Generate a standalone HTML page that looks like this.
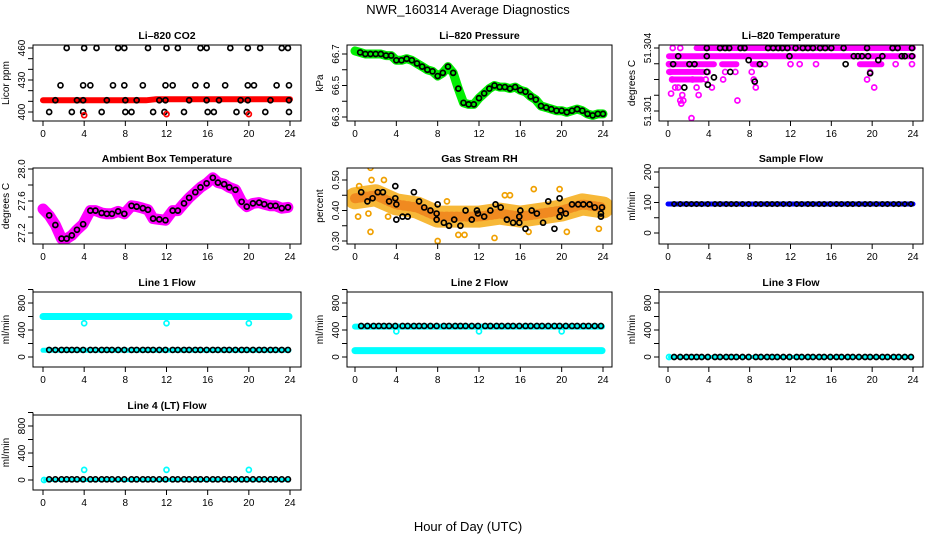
<!DOCTYPE html>
<html><head><meta charset="utf-8"><style>
html,body{margin:0;padding:0;background:#fff;}
svg{display:block;font-family:"Liberation Sans",sans-serif;}
</style></head><body>
<svg id="chart" width="936" height="540" viewBox="0 0 936 540" xmlns="http://www.w3.org/2000/svg">
<text x="468" y="14" font-size="13" text-anchor="middle">NWR_160314  Average Diagnostics</text>
<text x="468" y="531" font-size="13" text-anchor="middle">Hour of Day (UTC)</text>
</svg>
<script>
// ---------- data ----------
const xTickLabels = [0,4,8,12,16,20,24];
// CO2
const co2Band = [411,411,411,411,411,411,411,411,411,411,411,412,412,412,412,412,412,412,412,412,412,412,412,412,412];
const co2Hi = [2.3,4.0,5.2,7.3,7.9,10.2,12.0,13.1,15.3,15.9,18.2,19.9,21.1,23.2,23.8];
const co2Mid = [1.7,3.9,4.6,6.8,7.9,9.7,11.9,12.6,14.8,15.9,17.7,19.9,20.5,22.7,23.9];
const co2Base = [1.2,3.3,3.9,6.2,8.0,9.1,11.3,11.9,14.2,15.9,17.1,19.2,19.9,22.1,23.9];
const co2Low = [0.6,2.8,3.9,5.7,8.0,8.6,10.7,11.8,13.7,16.0,16.6,18.8,19.8,21.6,23.9];
const co2Levels = [460,425,411,400];
const co2RedOut = [[4,397],[12,398],[20,398]];
// Pressure (every 0.5 h)
const pressure = [66.72,66.71,66.70,66.70,66.70,66.70,66.69,66.69,66.66,66.66,66.67,66.66,66.64,66.62,66.60,66.59,66.56,66.58,66.62,66.58,66.48,66.39,66.38,66.38,66.42,66.45,66.48,66.50,66.49,66.49,66.48,66.49,66.47,66.46,66.43,66.41,66.37,66.36,66.35,66.34,66.34,66.33,66.34,66.35,66.34,66.32,66.31,66.32,66.32];
// Li-820 temperature
const tempSegs = [[51.30400,2.8,24],[51.30361,0.1,24],[51.30323,0.1,4.5],[51.30323,5.3,6.7],[51.30323,8.3,9.1],[51.30323,18.8,20.9],[51.30286,0.1,3.5],[51.30250,0.5,3.3]];
const tempMag = [[0.1,51.30323],[0.2,51.30286],[0.4,51.30250],[0.7,51.30212],[0.3,51.30183],[1.0,51.30212],[1.4,51.30176],[1.2,51.30150],[1.3,51.30135],[1.5,51.30150],[2.3,51.30066],[2.4,51.30250],[2.8,51.30212],[3.0,51.30176],[3.7,51.30250],[3.9,51.30286],[4.3,51.30212],[5.4,51.30250],[5.6,51.30286],[6.6,51.30286],[6.8,51.30150],[8.2,51.30286],[8.4,51.30250],[8.6,51.30212],[9.5,51.30323],[12.0,51.30323],[12.9,51.30323],[14.5,51.30323],[19.5,51.30250],[19.8,51.30286],[20.2,51.30212],[22.3,51.30323],[23.9,51.30323],[0.46,51.30400],[1.2,51.30400]];
const tempBlack = [[0.5,51.30323],[1.0,51.30361],[1.6,51.30212],[2.1,51.30323],[2.6,51.30323],[3.8,51.30400],[3.8,51.30286],[3.8,51.30361],[3.9,51.30225],[4.5,51.30260],[5.1,51.30400],[5.6,51.30400],[6.0,51.30400],[6.1,51.30286],[7.1,51.30400],[7.5,51.30400],[7.9,51.30342],[8.5,51.30240],[9.0,51.30323],[9.8,51.30400],[10.3,51.30400],[10.8,51.30400],[11.2,51.30400],[11.7,51.30400],[11.9,51.30361],[12.5,51.30400],[13.2,51.30400],[13.7,51.30400],[14.2,51.30400],[14.9,51.30400],[15.4,51.30400],[16.0,51.30400],[17.2,51.30400],[17.4,51.30323],[18.2,51.30361],[18.6,51.30361],[19.0,51.30361],[19.5,51.30400],[19.6,51.30361],[19.8,51.30280],[20.6,51.30342],[21.0,51.30361],[22.0,51.30400],[22.5,51.30400],[22.9,51.30361],[23.2,51.30361],[23.9,51.30400],[23.9,51.30361]];
// Ambient box temperature
const blackHours = [0.6,1.2,1.8,2.3,2.8,3.3,3.9,4.6,5.1,5.7,6.2,6.7,7.3,7.9,8.6,9.1,9.7,10.2,10.7,11.3,11.9,12.6,13.1,13.7,14.2,14.8,15.3,15.9,16.5,17.0,17.6,18.1,18.7,19.3,19.8,20.4,21.0,21.5,22.1,22.6,23.2,23.8];
const ambient = [27.42,27.30,27.13,27.13,27.17,27.24,27.31,27.48,27.48,27.45,27.44,27.44,27.47,27.44,27.54,27.53,27.51,27.49,27.38,27.37,27.36,27.48,27.48,27.57,27.64,27.71,27.77,27.82,27.89,27.83,27.81,27.77,27.74,27.59,27.53,27.57,27.58,27.56,27.54,27.54,27.51,27.52];
// Gas stream RH
const rhBandHours = [0,2,4,6,8,10,12,14,16,18,20,22,24];
const rhBand = [0.44,0.45,0.42,0.41,0.38,0.38,0.38,0.39,0.38,0.39,0.40,0.42,0.41];
const rhBlack = [[0.6,0.46],[1.2,0.43],[1.7,0.44],[2.2,0.46],[2.7,0.46],[3.3,0.43],[3.9,0.44],[3.9,0.48],[4.0,0.42],[4.0,0.37],[4.6,0.38],[5.1,0.38],[5.7,0.46],[6.2,0.43],[6.7,0.41],[7.3,0.40],[7.9,0.39],[7.9,0.37],[8.0,0.42],[8.6,0.36],[9.1,0.35],[9.6,0.37],[10.2,0.35],[10.7,0.40],[11.3,0.37],[11.8,0.40],[11.9,0.39],[12.5,0.38],[13.1,0.40],[13.6,0.42],[14.1,0.41],[14.7,0.37],[15.3,0.36],[15.9,0.36],[15.9,0.38],[16.0,0.40],[16.5,0.34],[17.1,0.40],[17.6,0.39],[18.2,0.36],[18.7,0.43],[19.3,0.34],[19.8,0.44],[19.8,0.38],[19.9,0.40],[20.4,0.39],[21.0,0.42],[21.6,0.42],[22.1,0.42],[22.7,0.42],[23.2,0.41],[23.8,0.39],[23.8,0.38],[23.9,0.41]];
const rhOut = [[1.5,0.54],[1.5,0.33],[1.3,0.39],[2.8,0.50],[3.2,0.38],[8.0,0.30],[10.0,0.32],[10.6,0.32],[13.5,0.31],[17.3,0.47],[16.8,0.33],[19.8,0.47],[20.5,0.33],[23.6,0.34],[14.5,0.45],[15.0,0.45],[8.9,0.43],[0.3,0.38],[0.4,0.48],[1.6,0.50]];
// Flows
const sampleFlow = 95;
const line1Cyan = 600, line1CyanLow = 100, line1Black = 105, line1Dip = 500;
const line2Cyan = 450, line2CyanLow = 95, line2Black = 460, line2Dip = 380;
const line3Cyan = 0, line3Black = 0;
const line4Cyan = 0, line4Black = 10, line4Spike = 150;
const dipHours = [4,12,20];

// ---------- drawing ----------
const svg = document.getElementById('chart');
const NS = 'http://www.w3.org/2000/svg';
function mk(tag, attrs, parent){ const e=document.createElementNS(NS,tag); for(const k in attrs) e.setAttribute(k,attrs[k]); (parent||svg).appendChild(e); return e; }
const cols = [{l:33,r:301,x0:43,x24:290},{l:347,r:612,x0:355,x24:603},{l:659,r:923,x0:668,x24:913}];
const rows = [{t:45,b:121},{t:168,b:244},{t:292,b:367},{t:415,b:490}];

function panel(name, col, row, title, ylab, v0, p0, v1, p1, ticks, labels){
  const c=cols[col], r=rows[row];
  const g = mk('g',{});
  
  
  const X = h => c.x0 + (c.x24-c.x0)*h/24;
  const Y = v => p0 + (p1-p0)*(v-v0)/(v1-v0);
  const clipId = 'clip-'+name;
  const cp = mk('clipPath',{id:clipId},g); mk('rect',{x:c.l,y:r.t,width:c.r-c.l,height:r.b-r.t},cp);
  const plot = mk('g',{'clip-path':'url(#'+clipId+')'},g);
  
  
  const box = mk('rect',{x:c.l,y:r.t,width:c.r-c.l,height:r.b-r.t,fill:'none',stroke:'#000','stroke-width':1},g);
  
  
  const t = mk('text',{x:(c.l+c.r)/2,y:r.t-6,'font-size':10.5,'font-weight':'bold','text-anchor':'middle'},g); t.textContent=title;
  
  
  const xa = mk('g',{},g);
  
  
  mk('line',{x1:X(0),x2:X(24),y1:r.b,y2:r.b,stroke:'#000'},xa);
  xTickLabels.forEach(h=>{
    mk('line',{x1:X(h),x2:X(h),y1:r.b,y2:r.b+5,stroke:'#000'},xa);
    const tx=mk('text',{x:X(h),y:r.b+16,'font-size':10,'text-anchor':'middle'},xa); tx.textContent=h;
    
    
  });
  const ya = mk('g',{},g);
  
  
  mk('line',{x1:c.l,x2:c.l,y1:Y(ticks[0]),y2:Y(ticks[ticks.length-1]),stroke:'#000'},ya);
  ticks.forEach(v=>{ mk('line',{x1:c.l-5,x2:c.l,y1:Y(v),y2:Y(v),stroke:'#000'},ya); });
  labels.forEach(v=>{
    const yy=Y(v[0]);
    const tx=mk('text',{x:c.l-8,y:yy,'font-size':10,'text-anchor':'middle',transform:'rotate(-90 '+(c.l-8)+' '+yy+')'},ya); tx.textContent=v[1];
    
    
  });
  const yl=mk('text',{x:c.l-24,y:(r.t+r.b)/2,'font-size':10,'text-anchor':'middle',transform:'rotate(-90 '+(c.l-24)+' '+((r.t+r.b)/2)+')'},g); yl.textContent=ylab;
  
  
  return {X,Y,plot};
}
function pt(p,x,y,color,r,sw){ const e=mk('circle',{cx:x,cy:y,r:r||2.5,fill:'none',stroke:color,'stroke-width':sw||1.7},p);   return e; }
function band(p,pts,color,w){ const e=mk('polyline',{points:pts.map(q=>q[0].toFixed(1)+','+q[1].toFixed(1)).join(' '),fill:'none',stroke:color,'stroke-width':w,'stroke-linejoin':'round','stroke-linecap':'round'},p);   return e; }

// CO2
(function(){
  const P=panel('co2-panel',0,0,'Li\u2013820 CO2','Licor ppm',400,112,460,48,[400,410,420,430,440,450,460],[[400,'400'],[430,'430'],[460,'460']]);
  band(P.plot, co2Band.map((v,i)=>[P.X(i),P.Y(v)]),'#ff0000',6);
  [co2Hi,co2Mid,co2Base,co2Low].forEach((hs,k)=>hs.forEach(h=>pt(P.plot,P.X(h),P.Y(co2Levels[k]),'#000')));
  co2RedOut.forEach(q=>pt(P.plot,P.X(q[0]),P.Y(q[1]),'#ff0000'));
})();
// Pressure
(function(){
  const P=panel('pressure-panel',1,0,'Li\u2013820 Pressure','kPa',66.3,117,66.7,54,[66.3,66.4,66.5,66.6,66.7],[[66.3,'66.3'],[66.5,'66.5'],[66.7,'66.7']]);
  band(P.plot, pressure.map((v,i)=>[P.X(i*0.5),P.Y(v)]),'#00ee00',9);
  pressure.forEach((v,i)=>{ if(i>0) pt(P.plot,P.X(i*0.5),P.Y(v),'#000'); });
})();
// Li-820 temperature
(function(){
  const P=panel('li820-temp-panel',2,0,'Li\u2013820 Temperature','degrees C',51.301,111,51.304,48,[51.301,51.30175,51.3025,51.30325,51.304],[[51.301,'51.301'],[51.304,'51.304']]);
  tempSegs.forEach(s=>band(P.plot,[[P.X(s[1]),P.Y(s[0])],[P.X(s[2]),P.Y(s[0])]],'#ff00ff',6));
  tempMag.forEach(q=>pt(P.plot,P.X(q[0]),P.Y(q[1]),'#ff00ff'));
  tempBlack.forEach(q=>pt(P.plot,P.X(q[0]),P.Y(q[1]),'#000'));
})();
// Ambient
(function(){
  const P=panel('ambient-temp-panel',0,1,'Ambient Box Temperature','degrees C',27.2,233,28.0,169,[27.2,27.4,27.6,27.8,28.0],[[27.2,'27.2'],[27.6,'27.6'],[28.0,'28.0']]);
  const pts=[[P.X(0),P.Y(27.5)]].concat(blackHours.map((h,i)=>[P.X(h),P.Y(ambient[i])]));
  band(P.plot,pts,'#ff00ff',11);
  blackHours.forEach((h,i)=>pt(P.plot,P.X(h),P.Y(ambient[i]),'#000'));
})();
// RH
(function(){
  const P=panel('rh-panel',1,1,'Gas Stream RH','percent',0.30,241,0.50,180,[0.30,0.35,0.40,0.45,0.50],[[0.30,'0.30'],[0.40,'0.40'],[0.50,'0.50']]);
  band(P.plot,rhBandHours.map((h,i)=>[P.X(h),P.Y(rhBand[i])]),'#f7b838',22);
  band(P.plot,rhBandHours.map((h,i)=>[P.X(h),P.Y(rhBand[i])]),'#f08a20',10).setAttribute('stroke-dasharray','2 3');
  rhOut.forEach(q=>pt(P.plot,P.X(q[0]),P.Y(q[1]),'#f0a000'));
  rhBlack.forEach(q=>pt(P.plot,P.X(q[0]),P.Y(q[1]),'#000'));
})();
// Sample flow
(function(){
  const P=panel('sample-flow-panel',2,1,'Sample Flow','ml/min',0,233,200,172,[0,50,100,150,200],[[0,'0'],[100,'100'],[200,'200']]);
  band(P.plot,[[P.X(0),P.Y(sampleFlow)],[P.X(24),P.Y(sampleFlow)]],'#0000ff',5);
  blackHours.forEach(h=>pt(P.plot,P.X(h),P.Y(sampleFlow),'#000',2.2));
})();
function flowPanel(name,col,row,title){
  const off=rows[row].b-367;
  return panel(name,col,row,title,'ml/min',0,357+off,800,303+off,[0,200,400,600,800,1000],[[0,'0'],[400,'400'],[800,'800']]);
}
// Line 1
(function(){
  const P=flowPanel('line1-flow-panel',0,2,'Line 1 Flow');
  band(P.plot,[[P.X(0),P.Y(line1Cyan)],[P.X(23.9),P.Y(line1Cyan)]],'#00ffff',7);
  band(P.plot,[[P.X(0),P.Y(line1CyanLow)],[P.X(23.9),P.Y(line1CyanLow)]],'#00ffff',5);
  dipHours.forEach(h=>pt(P.plot,P.X(h),P.Y(line1Dip),'#00ffff'));
  blackHours.forEach(h=>pt(P.plot,P.X(h),P.Y(line1Black),'#000'));
})();
// Line 2
(function(){
  const P=flowPanel('line2-flow-panel',1,2,'Line 2 Flow');
  band(P.plot,[[P.X(0),P.Y(line2Cyan)],[P.X(23.9),P.Y(line2Cyan)]],'#00ffff',6);
  band(P.plot,[[P.X(0),P.Y(line2CyanLow)],[P.X(23.9),P.Y(line2CyanLow)]],'#00ffff',7);
  dipHours.forEach(h=>pt(P.plot,P.X(h),P.Y(line2Dip),'#00ffff'));
  blackHours.forEach(h=>pt(P.plot,P.X(h),P.Y(line2Black),'#000'));
})();
// Line 3
(function(){
  const P=flowPanel('line3-flow-panel',2,2,'Line 3 Flow');
  pt(P.plot,P.X(0.1),P.Y(line3Cyan),'#00ffff');
  band(P.plot,[[P.X(0.2),P.Y(line3Cyan)],[P.X(23.9),P.Y(line3Cyan)]],'#00ffff',4);
  blackHours.forEach(h=>pt(P.plot,P.X(h),P.Y(line3Black),'#000'));
})();
// Line 4
(function(){
  const P=flowPanel('line4-flow-panel',0,3,'Line 4 (LT) Flow');
  pt(P.plot,P.X(0.1),P.Y(line4Cyan),'#00ffff');
  band(P.plot,[[P.X(0.2),P.Y(line4Cyan)],[P.X(23.9),P.Y(line4Cyan)]],'#00ffff',4);
  dipHours.forEach(h=>pt(P.plot,P.X(h),P.Y(line4Spike),'#00ffff'));
  blackHours.forEach(h=>pt(P.plot,P.X(h),P.Y(line4Black),'#000'));
})();
</script>
</body></html>
